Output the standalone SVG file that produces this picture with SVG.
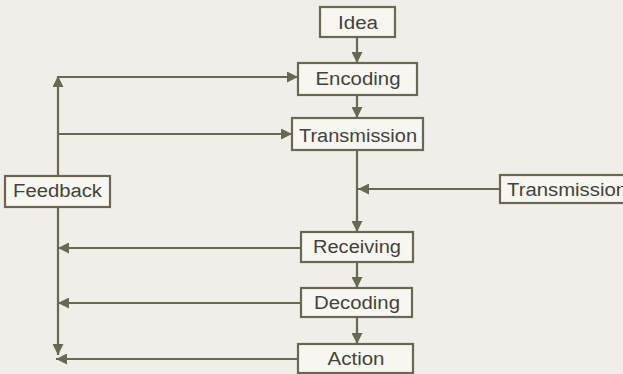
<svg xmlns="http://www.w3.org/2000/svg" width="623" height="374" viewBox="0 0 623 374">
<style>
.box{fill:#f7f6f1;stroke:#6b6750;stroke-width:2.2}
.lbl{font-family:"Liberation Sans",Arial,sans-serif;font-size:18px;fill:#44423a;text-anchor:middle}
.ln{fill:none;stroke:#6b6750;stroke-width:2.2}
</style>
<defs>
<marker id="ah" viewBox="0 0 10 10" refX="10" refY="5" markerWidth="11" markerHeight="11" markerUnits="userSpaceOnUse" orient="auto">
<path d="M0,0 L10,5 L0,10 Z" fill="#6b6750"/>
</marker>
</defs>
<rect width="623" height="374" fill="#efeee9"/>
<g id="connectors">
<line class="ln" x1="357" y1="37" x2="357" y2="63" marker-end="url(#ah)"/>
<line class="ln" x1="357" y1="95" x2="357" y2="118" marker-end="url(#ah)"/>
<line class="ln" x1="357" y1="150" x2="357" y2="232" marker-end="url(#ah)"/>
<line class="ln" x1="500" y1="189" x2="358" y2="189" marker-end="url(#ah)"/>
<line class="ln" x1="357" y1="262" x2="357" y2="288" marker-end="url(#ah)"/>
<line class="ln" x1="357" y1="317" x2="357" y2="344" marker-end="url(#ah)"/>
<line class="ln" x1="58" y1="176" x2="58" y2="76" marker-end="url(#ah)"/>
<line class="ln" x1="58" y1="207" x2="58" y2="355" marker-end="url(#ah)"/>
<line class="ln" x1="57" y1="77" x2="298" y2="77" marker-end="url(#ah)"/>
<line class="ln" x1="58" y1="134" x2="292" y2="134" marker-end="url(#ah)"/>
<line class="ln" x1="301" y1="248" x2="58" y2="248" marker-end="url(#ah)"/>
<line class="ln" x1="301" y1="303" x2="58" y2="303" marker-end="url(#ah)"/>
<line class="ln" x1="298" y1="359" x2="56" y2="359" marker-end="url(#ah)"/>
</g>
<g id="idea"><rect class="box" x="320" y="7" width="75" height="30"/><text class="lbl" x="358" y="29" textLength="40" lengthAdjust="spacingAndGlyphs">Idea</text></g>
<g id="encoding"><rect class="box" x="298" y="63" width="119" height="32"/><text class="lbl" x="358" y="85" textLength="85" lengthAdjust="spacingAndGlyphs">Encoding</text></g>
<g id="transmission"><rect class="box" x="292" y="118" width="131" height="32"/><text class="lbl" x="358" y="142" textLength="118" lengthAdjust="spacingAndGlyphs">Transmission</text></g>
<g id="transmission-right"><rect class="box" x="500" y="175" width="135" height="28"/><text class="lbl" x="567" y="196" textLength="120" lengthAdjust="spacingAndGlyphs">Transmission</text></g>
<g id="feedback"><rect class="box" x="5" y="176" width="105" height="31"/><text class="lbl" x="57.5" y="197" textLength="89" lengthAdjust="spacingAndGlyphs">Feedback</text></g>
<g id="receiving"><rect class="box" x="301" y="232" width="112" height="30"/><text class="lbl" x="357" y="253" textLength="88" lengthAdjust="spacingAndGlyphs">Receiving</text></g>
<g id="decoding"><rect class="box" x="301" y="288" width="111" height="29"/><text class="lbl" x="357" y="309" textLength="86" lengthAdjust="spacingAndGlyphs">Decoding</text></g>
<g id="action"><rect class="box" x="298" y="344" width="115" height="29"/><text class="lbl" x="356" y="365" textLength="57" lengthAdjust="spacingAndGlyphs">Action</text></g>
</svg>
